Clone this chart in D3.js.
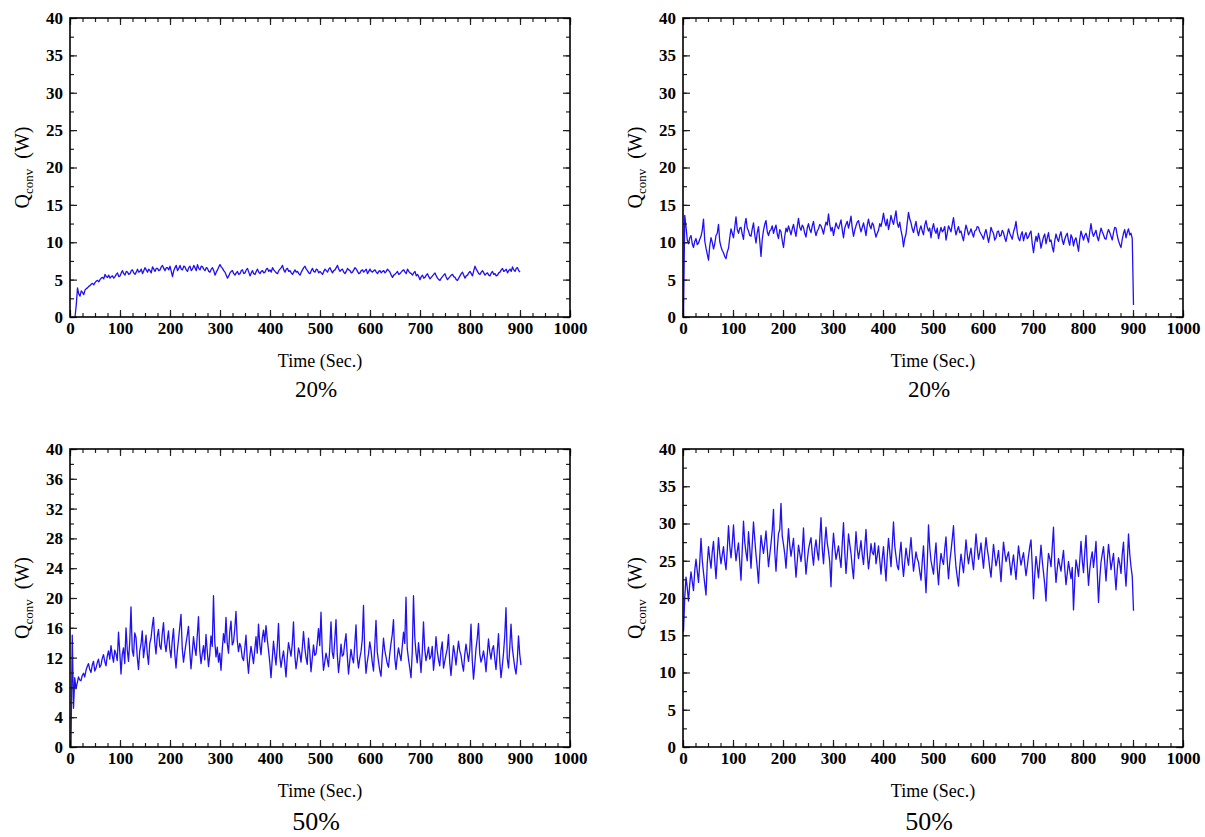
<!DOCTYPE html>
<html>
<head>
<meta charset="utf-8">
<script src="https://cdn.jsdelivr.net/npm/d3@7"></script>
<style>
  body { margin: 0; background: #fff; }
  svg { display: block; }
  text { font-family: "Liberation Serif", "Times New Roman", serif; }
  .ticklabels text { font-family: "Liberation Serif", "Times New Roman", serif; font-weight: 700; font-size: 17px; fill: #000; }
</style>
</head>
<body>
<svg id="chart" width="1205" height="837"></svg>
<script>
// Q_conv readings, one every 2.5 s
var sampleStep = 2.5;

// top left, 20%, first sample at t = 10 s
var q20Left = [
  0, 1.6, 3.9, 3.1, 2.8, 3.5, 3.3, 3.0, 3.6, 3.8, 3.9, 4.1, 4.2, 4.4, 4.5, 4.3, 4.6, 4.8, 4.9, 4.7, 5.0, 5.2, 5.3, 5.1, 5.7, 5.4, 5.3, 5.6, 5.2, 5.4, 5.5, 5.2, 5.4, 5.7, 5.9, 5.4,
  5.5, 5.9, 6.2, 5.8, 5.6, 6.1, 6.0, 5.7, 5.8, 6.2, 6.3, 5.9, 5.7, 6.0, 6.4, 6.0, 6.1, 6.4, 5.8, 6.2, 6.6, 6.3, 6.0, 6.4, 6.2, 5.9, 6.7, 6.4, 6.1, 6.5, 6.5, 6.2, 6.3, 6.7, 6.9, 6.5, 6.2, 6.6, 6.6, 6.3,
  6.8, 6.1, 5.4, 6.2, 6.6, 6.9, 6.2, 6.5, 6.9, 6.4, 6.3, 6.8, 6.7, 6.3, 6.1, 6.6, 6.8, 6.2, 6.4, 6.9, 6.6, 6.2, 7.0, 6.5, 6.3, 6.8, 6.7, 6.4, 6.2, 6.6, 6.5, 6.1, 6.0, 6.4, 6.6, 6.2, 5.6, 6.0, 6.3, 6.7,
  7.0, 6.7, 6.5, 6.2, 6.0, 5.6, 5.2, 5.5, 5.9, 6.1, 6.2, 5.8, 5.6, 5.9, 6.1, 5.7, 5.8, 6.2, 6.3, 5.8, 5.9, 6.3, 6.5, 6.0, 5.5, 5.9, 6.2, 5.8, 5.7, 6.1, 6.4, 6.0, 5.8, 6.1, 6.2, 5.9, 6.0, 6.4, 6.5, 6.1,
  6.3, 6.0, 6.6, 6.3, 6.1, 5.9, 5.8, 6.2, 6.4, 6.6, 6.9, 6.3, 6.0, 6.4, 6.5, 6.1, 6.2, 5.9, 5.7, 6.0, 6.3, 6.0, 6.1, 5.8, 5.6, 6.0, 6.3, 6.6, 6.8, 6.4, 6.2, 5.9, 5.8, 6.2, 6.5, 6.1, 6.0, 6.4, 6.3, 5.9,
  6.1, 5.9, 5.7, 6.1, 6.4, 6.2, 6.0, 6.4, 6.6, 6.2, 5.9, 6.2, 6.3, 6.6, 6.9, 6.4, 6.1, 6.3, 6.4, 6.0, 5.8, 6.1, 6.5, 6.3, 6.2, 5.9, 6.0, 6.3, 6.6, 6.4, 6.1, 5.8, 5.9, 6.2, 6.3, 6.0, 6.2, 6.4, 5.8, 6.1,
  6.4, 6.1, 6.0, 6.2, 6.3, 6.0, 5.8, 6.1, 6.2, 5.9, 6.1, 6.2, 5.9, 6.1, 6.4, 6.2, 6.0, 5.6, 5.3, 5.6, 5.7, 5.9, 6.1, 5.7, 5.8, 6.0, 6.2, 6.3, 6.0, 5.8, 6.4, 6.1, 5.9, 5.8, 5.6, 5.9, 6.1, 5.5, 5.7, 5.4,
  5.0, 5.4, 5.6, 5.2, 5.3, 5.6, 5.8, 5.4, 5.1, 5.3, 5.5, 5.7, 5.9, 5.5, 5.2, 5.0, 4.9, 5.2, 5.4, 5.6, 5.8, 5.3, 5.0, 5.2, 5.4, 5.6, 5.7, 5.4, 5.3, 5.0, 4.9, 5.2, 5.5, 5.8, 6.0, 5.6, 5.2, 5.5, 5.6, 5.9,
  6.1, 5.8, 5.5, 6.2, 6.8, 6.4, 6.1, 5.8, 5.7, 6.0, 6.2, 5.9, 5.6, 5.8, 5.9, 5.6, 5.5, 5.9, 6.1, 5.7, 5.8, 5.5, 5.6, 5.9, 6.0, 6.3, 6.5, 6.1, 6.2, 6.4, 5.9, 6.2, 6.4, 6.1, 6.7, 6.3, 6.1, 6.5, 6.6, 6.2,
  6.0
];

// top right, 20%, first sample at t = 1 s
var q20Right = [
  0, 13.6, 12.1, 10.3, 9.8, 10.6, 10.9, 9.8, 9.3, 10.1, 10.5, 9.7, 9.9, 10.4, 10.8, 11.6, 13.1, 10.2, 9.2, 8.4, 7.6, 9.5, 10.6, 10.0, 9.1, 9.8, 10.9, 11.2, 12.4, 10.1, 9.4, 8.9, 8.6, 8.1, 7.8, 8.7, 9.2, 10.6, 11.8, 11.2,
  10.6, 12.0, 13.4, 11.7, 11.2, 11.9, 12.0, 11.1, 10.4, 12.3, 13.2, 11.9, 11.5, 10.9, 10.8, 11.8, 12.6, 11.0, 9.9, 11.3, 12.1, 10.2, 8.1, 10.4, 11.6, 12.4, 12.9, 11.4, 10.9, 11.5, 11.7, 12.2, 11.2, 11.8, 12.3, 11.1, 10.5, 11.7, 11.4, 10.2,
  9.3, 10.8, 11.9, 11.4, 12.2, 11.6, 11.0, 11.8, 12.4, 11.5, 10.8, 12.1, 13.2, 12.0, 11.6, 12.3, 12.0, 11.2, 10.7, 11.9, 12.5, 11.7, 11.3, 12.2, 12.8, 11.6, 10.9, 11.5, 11.8, 12.4, 12.2, 11.7, 11.1, 12.0, 12.7, 12.3, 13.8, 12.4, 11.5, 12.0,
  10.9, 11.8, 12.6, 12.1, 11.8, 12.4, 13.0, 11.7, 10.6, 11.9, 12.4, 12.8, 11.9, 12.6, 13.5, 11.9, 10.8, 11.6, 12.2, 12.7, 12.9, 12.1, 11.4, 12.0, 12.6, 11.8, 10.9, 12.3, 13.1, 12.2, 11.8, 12.6, 12.3, 11.4, 10.7, 11.2, 11.6, 12.5, 12.1, 12.9,
  13.9, 12.8, 12.2, 13.1, 11.7, 12.5, 13.6, 12.9, 12.4, 13.3, 14.2, 12.6, 12.0, 12.7, 11.6, 10.8, 9.4, 10.5, 11.1, 12.6, 14.0, 13.1, 12.6, 11.8, 11.3, 12.1, 12.8, 11.6, 10.9, 11.7, 12.2, 11.5, 11.0, 12.3, 12.9, 12.0, 11.5, 11.9, 10.6, 11.8,
  12.5, 11.6, 11.2, 11.9, 10.5, 11.3, 12.0, 11.4, 11.6, 12.1, 10.3, 11.2, 12.2, 11.8, 11.4, 12.4, 13.3, 11.9, 11.0, 11.6, 12.1, 11.3, 11.5, 10.8, 10.2, 11.4, 12.3, 11.7, 11.0, 11.3, 11.8, 11.2, 10.7, 11.5, 11.6, 12.1, 12.0, 11.4, 11.1, 10.8,
  10.4, 11.2, 11.7, 10.9, 10.0, 10.8, 12.0, 11.5, 11.2, 10.3, 10.6, 11.4, 11.5, 10.8, 10.9, 11.6, 11.3, 10.6, 10.1, 11.0, 11.8, 11.2, 10.8, 10.4, 11.4, 11.9, 12.8, 11.3, 10.5, 10.2, 11.0, 11.4, 10.2, 10.9, 11.3, 10.5, 10.7, 11.2, 11.5, 9.8,
  8.6, 9.9, 10.8, 10.1, 11.2, 10.4, 9.2, 10.0, 10.7, 11.1, 9.8, 10.6, 11.3, 10.1, 10.3, 9.4, 8.7, 10.2, 11.1, 10.5, 10.1, 10.9, 11.4, 10.3, 9.7, 10.4, 10.9, 11.2, 10.2, 9.6, 11.0, 10.6, 9.5, 10.3, 10.6, 9.7, 8.8, 10.4, 11.5, 10.9,
  10.3, 10.9, 11.2, 10.6, 10.0, 11.4, 12.5, 11.3, 10.8, 11.2, 11.6, 10.7, 10.2, 11.1, 11.9, 11.4, 11.0, 10.5, 10.4, 11.2, 11.7, 11.3, 10.8, 10.3, 11.3, 12.0, 11.9, 10.9, 10.2, 9.7, 9.3, 10.4, 11.2, 11.7, 10.6, 11.3, 11.8, 11.0, 11.2, 10.5,
  1.6
];

// bottom left, 50%, first sample at t = 2 s
var q50Left = [
  0, 15.0, 5.2, 9.3, 7.8, 8.6, 9.4, 9.0, 8.9, 9.6, 9.9, 9.4, 10.3, 10.8, 11.2, 10.4, 10.0, 11.0, 11.5, 10.2, 10.6, 11.3, 11.8, 10.7, 11.0, 11.9, 12.4, 11.5, 10.9, 12.2, 12.9, 11.8, 13.6, 12.3, 11.4, 13.0, 12.5, 11.6, 15.4, 12.8,
  9.8, 12.4, 13.3, 11.2, 16.0, 13.1, 11.5, 14.2, 18.8, 13.0, 12.2, 15.3, 14.7, 12.1, 10.4, 12.9, 13.8, 15.6, 12.0, 13.4, 15.0, 12.6, 11.1, 13.9, 14.6, 16.2, 17.4, 14.1, 12.5, 14.8, 15.8, 13.6, 13.1, 15.2, 16.7, 14.0, 12.8, 14.3, 15.6, 13.2,
  12.0, 14.3, 15.9, 12.6, 10.6, 12.8, 14.4, 16.1, 17.8, 13.2, 11.4, 12.7, 13.9, 15.0, 16.2, 12.9, 10.5, 12.6, 14.8, 13.3, 12.3, 14.9, 17.5, 13.0, 11.2, 12.5, 13.6, 11.7, 15.1, 12.9, 10.8, 12.4, 14.9, 13.5, 20.3, 14.2, 12.1, 13.4, 11.4, 12.6,
  10.3, 13.1, 15.2, 14.0, 17.4, 13.9, 12.6, 15.5, 16.9, 13.7, 14.1, 15.8, 18.2, 14.3, 12.8, 13.9, 13.4, 12.0, 11.6, 13.2, 15.0, 11.8, 9.9, 12.1, 13.5, 12.4, 11.2, 13.0, 14.8, 12.6, 16.5, 13.8, 12.4, 14.6, 15.7, 14.1, 16.3, 14.5, 13.0, 11.4,
  9.3, 11.8, 14.2, 12.5, 11.0, 13.4, 16.6, 12.2, 10.7, 11.9, 12.9, 11.3, 9.4, 12.1, 14.0, 13.1, 12.2, 13.8, 16.8, 12.4, 10.5, 11.7, 13.3, 12.6, 11.4, 13.2, 15.5, 13.4, 12.0, 11.1, 14.6, 12.8, 10.1, 11.9, 13.7, 12.3, 12.5, 14.0, 15.9, 13.6,
  18.1, 12.9, 10.3, 11.4, 12.6, 11.8, 10.8, 13.2, 16.8, 12.7, 11.9, 14.3, 17.1, 12.5, 10.0, 11.6, 13.8, 12.2, 12.4, 14.0, 15.2, 12.3, 9.8, 11.5, 13.1, 12.0, 11.3, 13.7, 16.4, 12.1, 10.6, 11.9, 12.8, 14.4, 19.0, 12.6, 9.9, 11.4, 12.5, 14.1,
  13.0, 11.4, 10.2, 13.6, 17.0, 12.8, 11.5, 10.3, 9.5, 12.2, 14.6, 13.0, 12.1, 11.2, 10.7, 12.5, 13.9, 15.1, 17.1, 12.0, 10.4, 12.1, 13.3, 12.4, 11.6, 13.5, 15.4, 13.9, 20.1, 13.2, 11.8, 10.6, 9.3, 12.7, 20.3, 14.8, 12.6, 11.3, 14.0, 12.2,
  10.0, 12.7, 16.8, 13.1, 11.6, 12.4, 13.4, 11.8, 12.2, 13.5, 10.3, 12.0, 14.8, 12.9, 11.7, 10.9, 13.0, 14.1, 10.6, 11.5, 12.4, 13.2, 15.1, 11.3, 9.6, 11.8, 13.6, 12.5, 11.0, 12.7, 14.2, 12.9, 12.3, 11.1, 10.2, 12.4, 13.8, 12.6, 11.5, 13.0,
  16.5, 11.7, 9.1, 11.0, 13.2, 14.6, 16.6, 12.5, 11.4, 12.0, 12.9, 11.8, 10.1, 12.4, 14.5, 12.8, 11.8, 13.1, 13.6, 11.9, 10.4, 12.8, 15.2, 11.6, 9.3, 10.8, 12.6, 14.9, 18.7, 11.9, 10.6, 13.3, 16.5, 13.4, 12.0, 10.7, 9.8, 11.6, 14.9, 12.4,
  11.0
];

// bottom right, 50%, first sample at t = 1 s
var q50Right = [
  15.5, 20.1, 22.8, 21.4, 19.6, 21.9, 23.5, 22.2, 21.0, 23.7, 25.2, 23.6, 22.1, 24.8, 28.0, 25.1, 23.4, 21.9, 20.4, 24.6, 26.9, 25.3, 24.0, 26.2, 27.6, 24.9, 22.6, 25.4, 28.1, 26.0, 24.6, 25.8, 26.9, 25.0, 23.8, 26.4, 29.7, 27.0, 25.4, 27.3,
  29.8, 26.9, 25.0, 26.3, 27.4, 24.8, 22.4, 26.5, 30.3, 27.5, 26.1, 25.0, 28.9, 26.7, 24.0, 27.2, 30.2, 27.9, 25.8, 24.1, 22.0, 25.5, 28.4, 27.1, 26.0, 27.4, 29.0, 26.6, 24.2, 25.8, 27.3, 29.1, 31.9, 26.2, 23.6, 26.5, 28.6, 29.2, 32.7, 28.3,
  27.2, 25.9, 24.0, 26.7, 29.3, 27.1, 25.6, 26.8, 28.0, 25.3, 22.8, 24.9, 27.1, 26.0, 24.9, 26.3, 29.4, 25.8, 23.2, 25.0, 26.5, 27.4, 28.1, 25.9, 24.4, 26.6, 27.8, 26.2, 25.1, 27.9, 30.8, 26.7, 24.6, 27.3, 29.5, 27.4, 26.3, 24.8, 21.5, 26.2,
  28.7, 26.8, 25.2, 26.1, 27.0, 25.4, 24.1, 27.3, 30.1, 26.2, 23.3, 25.6, 28.6, 27.2, 26.0, 24.1, 22.6, 25.9, 28.9, 26.6, 25.3, 26.4, 27.7, 25.8, 24.5, 26.9, 29.2, 26.0, 23.9, 25.4, 27.3, 26.1, 25.8, 27.4, 24.6, 25.7, 27.0, 25.1, 23.2, 25.3,
  26.9, 24.5, 22.3, 25.6, 28.0, 26.2, 24.2, 27.1, 30.2, 27.0, 25.6, 24.3, 23.8, 25.9, 27.5, 24.7, 22.9, 24.8, 26.7, 25.5, 24.4, 26.3, 28.1, 25.7, 23.6, 24.9, 26.2, 25.3, 24.8, 23.5, 22.4, 24.9, 27.0, 23.8, 20.7, 24.6, 29.8, 26.8, 25.0, 24.1,
  23.2, 25.6, 27.4, 24.1, 21.8, 24.3, 26.0, 25.1, 24.5, 26.6, 28.2, 25.0, 22.6, 24.8, 26.3, 27.9, 29.7, 26.3, 24.1, 22.8, 21.6, 24.2, 25.9, 24.6, 23.4, 25.5, 27.8, 25.9, 24.6, 25.8, 26.7, 25.1, 23.8, 26.2, 28.6, 26.7, 25.2, 26.1, 27.4, 25.6,
  24.0, 26.2, 28.1, 26.6, 25.5, 24.0, 22.8, 25.1, 27.2, 25.7, 24.3, 25.2, 26.4, 24.3, 22.2, 25.0, 27.5, 26.1, 24.9, 25.6, 26.2, 24.7, 23.1, 24.6, 25.8, 24.1, 22.5, 24.8, 27.0, 25.6, 24.4, 25.3, 26.1, 24.5, 23.0, 24.2, 25.6, 26.9, 27.8, 24.3,
  19.9, 23.1, 25.6, 24.3, 22.7, 24.9, 27.1, 25.0, 23.4, 21.8, 19.6, 23.7, 26.0, 25.3, 24.2, 26.8, 29.5, 24.6, 22.1, 23.9, 25.3, 24.4, 23.6, 25.1, 26.4, 23.9, 21.8, 23.3, 24.9, 23.7, 22.6, 24.1, 18.4, 22.3, 25.1, 24.2, 22.9, 25.0, 27.6, 25.1,
  23.4, 26.1, 28.4, 24.6, 21.7, 23.8, 25.3, 26.2, 24.1, 25.7, 27.6, 23.5, 19.4, 22.6, 24.8, 25.9, 26.9, 24.7, 22.3, 24.9, 27.2, 25.6, 23.8, 24.9, 26.0, 23.4, 21.1, 23.8, 25.4, 24.6, 23.3, 25.9, 27.5, 24.0, 21.6, 24.7, 28.6, 25.9, 24.2, 22.9,
  18.3
];

var timeTicks = [0, 100, 200, 300, 400, 500, 600, 700, 800, 900, 1000];
var ticks20 = [0, 5, 10, 15, 20, 25, 30, 35, 40];
var ticks50Left = [0, 4, 8, 12, 16, 20, 24, 28, 32, 36, 40];
var ticks50Right = [0, 5, 10, 15, 20, 25, 30, 35, 40];

var panels = [
  { left: 70,  top: 18,  h: 299, values: q20Left,  t0: 10, yTicks: ticks20,      yMinor: 2.5, caption: "20%", capSize: 23, capDy: 80 },
  { left: 683, top: 18,  h: 299, values: q20Right, t0: 1,  yTicks: ticks20,      yMinor: 2.5, caption: "20%", capSize: 23, capDy: 80 },
  { left: 70,  top: 449, h: 298, values: q50Left,  t0: 2,  yTicks: ticks50Left,  yMinor: 2,   caption: "50%", capSize: 26, capDy: 83 },
  { left: 683, top: 449, h: 298, values: q50Right, t0: 1,  yTicks: ticks50Right, yMinor: 2.5, caption: "50%", capSize: 26, capDy: 83 }
];

var W = 500;
var svg = d3.select("#chart");

function minorTicks(step, max) {
  return d3.range(0, max + 0.001, step);
}

panels.forEach(function(p) {
  var g = svg.append("g").attr("transform", "translate(" + p.left + "," + p.top + ")");
  var x = d3.scaleLinear().domain([0, 1000]).range([0, W]);
  var y = d3.scaleLinear().domain([0, 40]).range([p.h, 0]);

  // data line
  var line = d3.line()
    .x(function(d, i) { return x(p.t0 + i * sampleStep); })
    .y(function(d) { return y(d); });
  g.append("path")
    .datum(p.values)
    .attr("d", line)
    .attr("fill", "none")
    .attr("stroke", "#2010f5")
    .attr("stroke-width", 1.3)
    .attr("stroke-linejoin", "round");

  // minor ticks, all four sides, pointing in
  var xMinor = minorTicks(25, 1000), yMinor = minorTicks(p.yMinor, 40);
  g.append("g").attr("transform", "translate(0," + p.h + ")")
    .call(d3.axisBottom(x).tickValues(xMinor).tickSizeInner(-4).tickSizeOuter(0).tickFormat(""));
  g.append("g")
    .call(d3.axisTop(x).tickValues(xMinor).tickSizeInner(-4).tickSizeOuter(0).tickFormat(""));
  g.append("g")
    .call(d3.axisLeft(y).tickValues(yMinor).tickSizeInner(-4).tickSizeOuter(0).tickFormat(""));
  g.append("g").attr("transform", "translate(" + W + ",0)")
    .call(d3.axisRight(y).tickValues(yMinor).tickSizeInner(-4).tickSizeOuter(0).tickFormat(""));

  // major ticks + labels
  g.append("g").attr("class", "ticklabels").attr("transform", "translate(0," + p.h + ")")
    .call(d3.axisBottom(x).tickValues(timeTicks).tickSizeInner(-7).tickSizeOuter(0).tickPadding(5).tickFormat(d3.format("d")));
  g.append("g").attr("class", "ticklabels")
    .call(d3.axisLeft(y).tickValues(p.yTicks).tickSizeInner(-7).tickSizeOuter(0).tickPadding(7).tickFormat(d3.format("d")));
  g.append("g")
    .call(d3.axisTop(x).tickValues(timeTicks).tickSizeInner(-7).tickSizeOuter(0).tickFormat(""));
  g.append("g").attr("transform", "translate(" + W + ",0)")
    .call(d3.axisRight(y).tickValues(p.yTicks).tickSizeInner(-7).tickSizeOuter(0).tickFormat(""));

  g.selectAll(".domain").remove();
  g.selectAll(".tick line").attr("stroke", "#222").attr("stroke-width", 1.2);

  // frame
  g.append("rect")
    .attr("width", W).attr("height", p.h)
    .attr("fill", "none").attr("stroke", "#000").attr("stroke-width", 1.6);

  // axis titles
  g.append("text")
    .attr("x", W / 2).attr("y", p.h + 50)
    .attr("text-anchor", "middle")
    .style("font-size", "18px")
    .text("Time (Sec.)");

  var yt = g.append("text")
    .attr("transform", "translate(-41," + (p.h / 2) + ") rotate(-90)")
    .attr("text-anchor", "middle")
    .style("font-size", "20px");
  yt.append("tspan").text("Q");
  yt.append("tspan").attr("dy", 4).style("font-size", "13px").text("conv");
  yt.append("tspan").attr("dy", -4).text("\u00a0 (W)");

  g.append("text")
    .attr("x", W / 2 - 4).attr("y", p.h + p.capDy)
    .attr("text-anchor", "middle")
    .style("font-size", p.capSize + "px")
    .text(p.caption);
});
</script>
</body>
</html>
